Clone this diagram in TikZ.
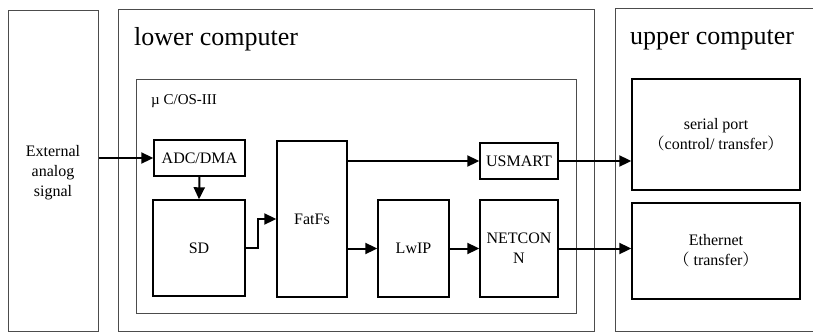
\documentclass[tikz,border=0pt]{standalone}
\usepackage{fontspec}
\setmainfont{Liberation Serif}
\newfontfamily\cjk{Noto Serif CJK SC}
\usetikzlibrary{arrows.meta}
\tikzset{
  blk/.style={draw=black, line width=1.4pt, inner sep=0pt, align=center, font=\rmfamily\fontsize{16}{20}\selectfont},
  cont/.style={draw=black!70, line width=1pt},
  conn/.style={line width=2pt, -{Triangle[length=12pt,width=11pt]}},
  title/.style={font=\rmfamily\fontsize{26}{30}\selectfont, inner sep=0pt}
}
\begin{document}
\begin{tikzpicture}[x=1pt,y=-1pt]
\useasboundingbox (0,0) rectangle (813,332);
% containers
\node[cont, minimum width=90pt, minimum height=321pt, inner sep=0pt] (ext) at (53,170.5) {};
\node[blk, draw=none] (extt) at (53,173) {External\\analog\\signal};
\draw[cont] (118,9) rectangle (594,331);
\node[title, anchor=base] (lower) at (216,45) {lower computer};
\draw[cont] (136,79) rectangle (576,313);
\node[anchor=west, inner sep=0pt, font=\rmfamily\fontsize{15}{18}\selectfont] (os) at (151,101) {µ C/OS-III};
\draw[cont] (830,331) -- (615,331) -- (615,8) -- (830,8);
\node[title, anchor=base] (upper) at (712,44) {upper computer};
% blocks
\node[blk, minimum width=91pt, minimum height=36pt] (adc) at (199.5,158) {ADC/DMA};
\node[blk, minimum width=92pt, minimum height=96pt] (sd) at (199,248) {SD};
\node[blk, minimum width=70pt, minimum height=156pt] (fat) at (312,219) {FatFs};
\node[blk, minimum width=71pt, minimum height=97pt] (lwip) at (413.5,248.5) {LwIP};
\node[blk, minimum width=78pt, minimum height=97pt] (net) at (519,248.5) {NETCON\\N};
\node[blk, minimum width=78pt, minimum height=36pt] (usm) at (519,161) {USMART};
\node[blk, minimum width=168pt, minimum height=111pt] (ser) at (716,134.5) {serial port\\{\cjk （}control/ transfer{\cjk ）}};
\node[blk, minimum width=168pt, minimum height=96pt] (eth) at (716,251) {Ethernet\\{\cjk （} transfer{\cjk ）}};
% connectors
\coordinate (b1) at (258,248);
\draw[conn] (ext.east |- adc.west) -- (adc.west);
\draw[conn] (adc.south) -- (sd.north);
\draw[conn] (sd.east) -- (b1) -- (b1 |- fat.west) -- (fat.west);
\draw[conn] (fat.east |- usm.west) -- (usm.west);
\draw[conn] (fat.east |- lwip.west) -- (lwip.west);
\draw[conn] (lwip.east) -- (net.west);
\draw[conn] (usm.east) -- (ser.west |- usm.east);
\draw[conn] (net.east) -- (eth.west |- net.east);
\end{tikzpicture}
\end{document}
